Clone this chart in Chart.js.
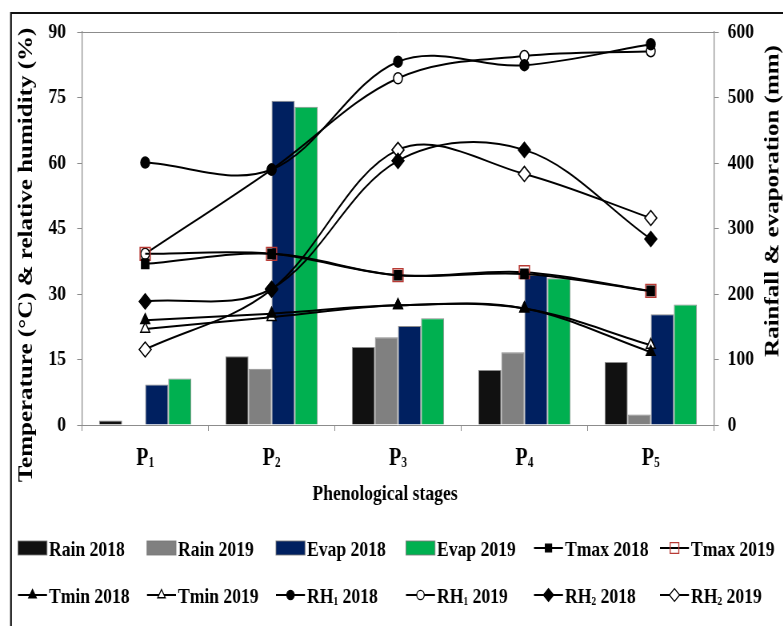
<!DOCTYPE html>
<html>
<head>
<meta charset="utf-8">
<script src="https://cdn.jsdelivr.net/npm/chart.js@4.4.1/dist/chart.umd.min.js"></script>
<style>
  html, body { margin: 0; padding: 0; background: #fff; overflow: hidden; }
  #wrap { width: 783px; height: 626px; overflow: hidden; position: relative; }
  /* the drawing is laid out 25% wider and squeezed back to the page width (condensed look) */
  #c { position: absolute; left: 0; top: 0; transform: scaleX(0.8); transform-origin: 0 0; }
</style>
</head>
<body>
<div id="wrap"><canvas id="c" width="979" height="626" style="width:979px;height:626px"></canvas></div>
<script>
// ---- data ----
const stages    = ['P1', 'P2', 'P3', 'P4', 'P5'];
const tempTicks = [0, 15, 30, 45, 60, 75, 90];
const rainTicks = [0, 100, 200, 300, 400, 500, 600];

const rain2018 = [7, 105, 119, 84, 96];
const rain2019 = [0, 86, 134, 111, 16];
const evap2018 = [62, 495, 151, 229, 169];
const evap2019 = [71, 486, 163, 224, 184];

const tmax2018 = [36.9, 39.2, 34.3, 34.6, 30.7];
const tmax2019 = [39.2, 39.2, 34.3, 35.0, 30.7];
const tmin2018 = [24.0, 25.5, 27.4, 26.7, 16.7];
const tmin2019 = [22.0, 24.7, 27.4, 26.7, 18.3];
const rh1_2018 = [60.1, 58.5, 83.2, 82.4, 87.2];
const rh1_2019 = [39.2, 58.5, 79.4, 84.5, 85.6];
const rh2_2018 = [28.3, 31.2, 60.5, 63.0, 42.6];
const rh2_2019 = [17.3, 31.0, 63.0, 57.5, 47.4];

// ---- styling ----
const SX = 1.25;               // canvas units per page pixel, horizontally
const FONT = '"Liberation Serif", "Times New Roman", serif';
const AXIS_GREY = '#8c8c8c';

function bar(label, data, color) {
  return { type: 'bar', label, data, yAxisID: 'yR', backgroundColor: color,
           borderColor: 'rgba(120,120,120,0.85)', borderWidth: 1, order: 10 };
}
function line(label, data, style, radius, fill, stroke) {
  return { type: 'line', label, data, yAxisID: 'yL', borderColor: '#000', borderWidth: 2,
           tension: 0.35, fill: false, pointStyle: style, pointRadius: radius,
           pointBackgroundColor: fill, pointBorderColor: stroke || '#000',
           pointBorderWidth: 1.5, order: 1 };
}

const datasets = [
  bar('Rain 2018', rain2018, '#111111'),
  bar('Rain 2019', rain2019, '#808080'),
  bar('Evap 2018', evap2018, '#002060'),
  bar('Evap 2019', evap2019, '#00b050'),
  line('Tmax 2018', tmax2018, 'rect', 6.5, '#000'),
  line('Tmax 2019', tmax2019, 'rect', 9, 'rgba(0,0,0,0)', '#b83a34'),
  line('Tmin 2018', tmin2018, 'triangle', 6.5, '#000'),
  line('Tmin 2019', tmin2019, 'triangle', 6.5, '#fff'),
  line('RH1 2018', rh1_2018, 'circle', 5.5, '#000'),
  line('RH1 2019', rh1_2019, 'circle', 5.5, '#fff'),
  line('RH2 2018', rh2_2018, 'rectRot', 7.5, '#000'),
  line('RH2 2019', rh2_2019, 'rectRot', 7.5, '#fff')
];

// text where a digit right after a letter is written as a subscript (P1, RH1 ...)
function drawRich(ctx, text, x, y, size, align) {
  const parts = [];
  for (let i = 0; i < text.length; i++) {
    const ch = text[i];
    const sub = /\d/.test(ch) && i > 0 && /[A-Za-z]/.test(text[i - 1]);
    if (parts.length && parts[parts.length - 1].sub === sub) parts[parts.length - 1].t += ch;
    else parts.push({ t: ch, sub });
  }
  const subSize = Math.round(size * 0.56);
  let total = 0;
  parts.forEach(p => {
    ctx.font = `bold ${p.sub ? subSize : size}px ${FONT}`;
    p.w = ctx.measureText(p.t).width;
    total += p.w;
  });
  let cx = align === 'center' ? x - total / 2 : x;
  ctx.textAlign = 'left';
  ctx.textBaseline = 'alphabetic';
  parts.forEach(p => {
    ctx.font = `bold ${p.sub ? subSize : size}px ${FONT}`;
    ctx.fillText(p.t, cx, p.sub ? y + 2 : y);
    cx += p.w;
  });
}

function marker(ctx, style, x, y, r, fill, stroke, lw) {
  ctx.beginPath();
  if (style === 'circle') {
    ctx.arc(x, y, r, 0, Math.PI * 2);
  } else if (style === 'rect') {
    const s = r * Math.SQRT1_2;
    ctx.rect(x - s, y - s, 2 * s, 2 * s);
  } else if (style === 'triangle') {
    for (let k = 0; k < 3; k++) {
      const a = k * 2 * Math.PI / 3;
      const px = x + Math.sin(a) * r, py = y - Math.cos(a) * r;
      if (k) ctx.lineTo(px, py); else ctx.moveTo(px, py);
    }
    ctx.closePath();
  } else if (style === 'rectRot') {
    ctx.moveTo(x, y - r); ctx.lineTo(x + r, y); ctx.lineTo(x, y + r); ctx.lineTo(x - r, y);
    ctx.closePath();
  }
  ctx.fillStyle = fill; ctx.fill();
  ctx.lineWidth = lw; ctx.strokeStyle = stroke; ctx.stroke();
}

const decorations = {
  id: 'decorations',
  afterDraw(chart) {
    const ctx = chart.ctx;
    const area = chart.chartArea;
    const xs = chart.scales.x;
    ctx.save();

    // outer frame (top and left edges)
    ctx.strokeStyle = '#111';
    ctx.lineWidth = 2.2;
    ctx.beginPath();
    ctx.moveTo(11 * SX, 626);
    ctx.lineTo(11 * SX, 13);
    ctx.lineTo(chart.width, 13);
    ctx.stroke();

    // top edge of the plot box
    ctx.strokeStyle = AXIS_GREY;
    ctx.lineWidth = 1;
    ctx.beginPath();
    ctx.moveTo(area.left, area.top + 0.5);
    ctx.lineTo(area.right, area.top + 0.5);
    ctx.stroke();

    // stage labels
    ctx.fillStyle = '#000';
    stages.forEach((s, i) => drawRich(ctx, s, xs.getPixelForValue(i), 465, 25, 'center'));

    // axis titles
    ctx.font = `bold 22px ${FONT}`;
    ctx.textAlign = 'center';
    ctx.textBaseline = 'middle';
    ctx.fillText('Phenological stages', 385 * SX, 494);

    ctx.font = `bold 25px ${FONT}`;
    ctx.save();
    ctx.translate(27 * SX, 255);
    ctx.rotate(-Math.PI / 2);
    ctx.fillText('Temperature (\u00B0C) & relative humidity (%)', 0, 0);
    ctx.restore();
    ctx.save();
    ctx.translate(773 * SX, 201);
    ctx.rotate(-Math.PI / 2);
    ctx.fillText('Rainfall & evaporation (mm)', 0, 0);
    ctx.restore();

    // legend: 6 columns x 2 rows
    const colX = [18, 147, 276, 406, 534, 660];
    const rowY = [548, 595];
    chart.data.datasets.forEach((ds, i) => {
      const x0 = colX[i % 6] * SX;
      const y = rowY[Math.floor(i / 6)];
      const w = 29 * SX;
      if (ds.type === 'bar') {
        ctx.fillStyle = ds.backgroundColor;
        ctx.fillRect(x0, y - 7, w, 14);
        ctx.strokeStyle = 'rgba(120,120,120,0.85)';
        ctx.lineWidth = 1;
        ctx.strokeRect(x0, y - 7, w, 14);
      } else {
        ctx.strokeStyle = '#000';
        ctx.lineWidth = 2;
        ctx.beginPath();
        ctx.moveTo(x0, y);
        ctx.lineTo(x0 + w, y);
        ctx.stroke();
        marker(ctx, ds.pointStyle, x0 + w / 2, y, ds.pointRadius * 0.85,
               ds.pointBackgroundColor, ds.pointBorderColor, 1.3);
      }
      ctx.fillStyle = '#000';
      drawRich(ctx, ds.label, x0 + w + 2 * SX, y + 7.5, 22, 'left');
    });
    ctx.restore();
  }
};

const tickFont = { family: FONT, size: 22, weight: 'bold' };

new Chart(document.getElementById('c'), {
  type: 'bar',
  data: { labels: stages, datasets },
  plugins: [decorations],
  options: {
    responsive: false,
    devicePixelRatio: 1,
    animation: false,
    layout: { padding: { top: 32, left: 0, right: 0, bottom: 0 } },
    datasets: { bar: { categoryPercentage: 0.73, barPercentage: 1 } },
    plugins: { legend: { display: false }, tooltip: { enabled: false } },
    scales: {
      x: {
        offset: true,
        ticks: { display: false },
        grid: { display: true, offset: true, drawOnChartArea: false, drawTicks: true,
                tickLength: 6, color: AXIS_GREY },
        border: { color: AXIS_GREY, width: 1 },
        afterFit(scale) { scale.height = 201; }
      },
      yL: {
        position: 'left',
        min: 0, max: 90,
        afterBuildTicks(scale) { scale.ticks = tempTicks.map(v => ({ value: v })); },
        ticks: { font: tickFont, color: '#000', padding: 14 },
        grid: { drawOnChartArea: false, drawTicks: true, tickLength: 6, color: AXIS_GREY },
        border: { color: AXIS_GREY, width: 1.25 },
        afterFit(scale) { scale.width = 82 * SX; }
      },
      yR: {
        position: 'right',
        min: 0, max: 600,
        afterBuildTicks(scale) { scale.ticks = rainTicks.map(v => ({ value: v })); },
        ticks: { font: tickFont, color: '#000', padding: 11 },
        grid: { drawOnChartArea: false, drawTicks: true, tickLength: 6, color: AXIS_GREY },
        border: { color: AXIS_GREY, width: 1.25 },
        afterFit(scale) { scale.width = 979 - 714 * SX; }
      }
    }
  }
});
</script>
</body>
</html>
